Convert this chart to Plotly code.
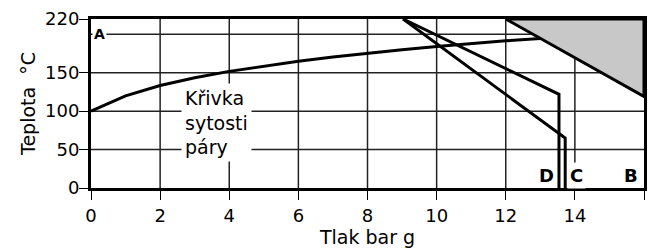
import plotly.graph_objects as go

# Saturation curve (Křivka sytosti páry)
pressure_sat = [0, 1, 2, 3, 4, 5, 6, 7, 8, 9, 10, 11, 12, 13]
temp_sat = [100, 120, 133.5, 143.6, 151.8, 158.8, 165, 170.4, 175.4, 179.9, 184.1, 188, 191.6, 194.5]

# Limit line ending at D (left vertical)
line_d_p = [9.03, 13.54, 13.54]
line_d_t = [220, 122, 0]

# Limit line ending at C (right vertical)
line_c_p = [9.03, 13.6, 13.72, 13.72]
line_c_t = [220, 69, 65, 0]

# Shaded zone (B)
zone_p = [12, 16, 16, 12]
zone_t = [220, 220, 119, 220]

x_ticks = [0, 2, 4, 6, 8, 10, 12, 14, 16]
y_ticks = [0, 50, 100, 150, 220]
y_grid = [50, 100, 150, 200]
x_range = [0, 16]
y_range = [0, 220]

FONT = "DejaVu Sans"

fig = go.Figure()

# Grid lines as thin line traces built from the tick lists (drawn first, below everything)
gx, gy = [], []
for xv in x_ticks[1:-1]:
    gx += [xv, xv, None]
    gy += [y_range[0], y_range[1], None]
for yv in y_grid:
    gx += [x_range[0], x_range[1], None]
    gy += [yv, yv, None]
fig.add_trace(go.Scatter(x=gx, y=gy, mode="lines", connectgaps=False,
                         line=dict(color="#222222", width=1.5),
                         hoverinfo="skip", showlegend=False))

fig.add_trace(go.Scatter(x=zone_p, y=zone_t, mode="lines", fill="toself",
                         fillcolor="#c8c8c8", line=dict(color="black", width=3),
                         hoverinfo="skip", showlegend=False))
fig.add_trace(go.Scatter(x=pressure_sat, y=temp_sat, mode="lines",
                         line=dict(color="black", width=3), showlegend=False))
fig.add_trace(go.Scatter(x=line_d_p, y=line_d_t, mode="lines",
                         line=dict(color="black", width=3), showlegend=False))
fig.add_trace(go.Scatter(x=line_c_p, y=line_c_t, mode="lines",
                         line=dict(color="black", width=3), showlegend=False))

fig.add_annotation(x=3.62, y=85, text="Křivka<br>sytosti<br>páry", showarrow=False,
                   align="left", bgcolor="white", borderpad=3,
                   font=dict(family=FONT, size=19, color="black"))
fig.add_annotation(x=0.24, y=200, text="<b>A</b>", showarrow=False,
                   bgcolor="white", borderpad=1,
                   font=dict(family=FONT, size=14, color="black"))
fig.add_annotation(x=13.18, y=16, text="<b>D</b>", showarrow=False,
                   font=dict(family=FONT, size=18, color="black"))
fig.add_annotation(x=14.04, y=16, text="<b>C</b>", showarrow=False,
                   bgcolor="white", borderpad=2,
                   font=dict(family=FONT, size=18, color="black"))
fig.add_annotation(x=15.62, y=16, text="<b>B</b>", showarrow=False,
                   font=dict(family=FONT, size=18, color="black"))

axis_common = dict(showgrid=False,
                   showline=True, linecolor="black", linewidth=3, mirror=True,
                   ticks="outside", ticklen=9, tickwidth=1, tickcolor="black",
                   zeroline=False, automargin=False,
                   tickfont=dict(family=FONT, size=18, color="black"))

fig.update_layout(
    template="none",
    width=653, height=248, margin=dict(l=91, r=9, t=19, b=60, pad=0),
    plot_bgcolor="white", paper_bgcolor="white", showlegend=False,
    xaxis=dict(range=x_range, tickmode="array", tickvals=x_ticks,
               title=dict(text="Tlak bar g", font=dict(family=FONT, size=19, color="black"), standoff=6),
               **axis_common),
    yaxis=dict(range=y_range, tickmode="array", tickvals=y_ticks,
               ticklabelstandoff=-4,
               title=dict(text="Teplota\u00a0\u00a0°C", font=dict(family=FONT, size=19, color="black"), standoff=5),
               **axis_common),
)

fig.write_html("out.html", config={"displayModeBar": False},
               post_script="document.body.style.margin='0';document.body.style.padding='0';")
